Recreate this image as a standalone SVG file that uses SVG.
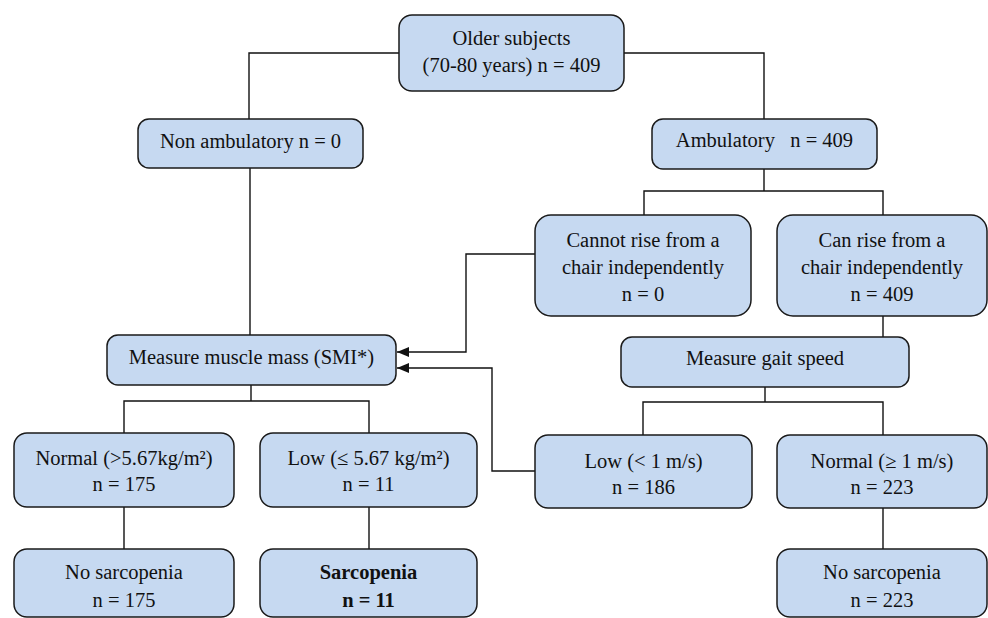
<svg xmlns="http://www.w3.org/2000/svg" width="988" height="618" viewBox="0 0 988 618">
<style>
.box{fill:#c6d9f1;stroke:#1a1a1a;stroke-width:1.5}
.t{font-family:"Liberation Serif","Times New Roman",serif;font-size:20.5px;fill:#111;text-anchor:middle}
.b{font-weight:bold}
.c{fill:none;stroke:#111;stroke-width:1.4}
</style>
<defs>
<marker id="ah" viewBox="0 0 12 10" refX="12" refY="5" markerWidth="12" markerHeight="10" markerUnits="userSpaceOnUse" orient="auto">
<path d="M0,0 L12,5 L0,10 Z" fill="#111"/>
</marker>
</defs>
<rect width="988" height="618" fill="#fff"/>
<g id="connectors">
<path class="c" d="M399,53 H249 V119"/>
<path class="c" d="M624,53 H764 V119"/>
<path class="c" d="M250,168 V335"/>
<path class="c" d="M764,169 V191"/>
<path class="c" d="M644,215 V191 H883 V215"/>
<path class="c" d="M535,254 H466 V352 H397" marker-end="url(#ah)"/>
<path class="c" d="M883,316 V337"/>
<path class="c" d="M251,385 V401"/>
<path class="c" d="M124,433 V401 H369 V433"/>
<path class="c" d="M765,387 V402"/>
<path class="c" d="M643,435 V402 H883 V435"/>
<path class="c" d="M535,471 H492 V368 H397" marker-end="url(#ah)"/>
<path class="c" d="M124,507 V549"/>
<path class="c" d="M369,507 V549"/>
<path class="c" d="M883,508 V549"/>
</g>
<g id="older">
<rect class="box" x="399" y="15" width="225" height="76" rx="13"/>
<text class="t" x="511.5" y="45">Older subjects</text>
<text class="t" x="511.5" y="72">(70-80 years) n = 409</text>
</g>
<g id="nonamb">
<rect class="box" x="138" y="119" width="225" height="49" rx="11"/>
<text class="t" x="250.5" y="148">Non ambulatory n = 0</text>
</g>
<g id="amb">
<rect class="box" x="652" y="119" width="225" height="50" rx="11"/>
<text class="t" x="764.5" y="147" xml:space="preserve">Ambulatory   n = 409</text>
</g>
<g id="cannot">
<rect class="box" x="535" y="215" width="216" height="101" rx="16"/>
<text class="t" x="643" y="247">Cannot rise from a</text>
<text class="t" x="643" y="274">chair independently</text>
<text class="t" x="643" y="301">n = 0</text>
</g>
<g id="can">
<rect class="box" x="777" y="215" width="210" height="101" rx="16"/>
<text class="t" x="882" y="247">Can rise from a</text>
<text class="t" x="882" y="274">chair independently</text>
<text class="t" x="882" y="301">n = 409</text>
</g>
<g id="muscle">
<rect class="box" x="107" y="335" width="289" height="50" rx="11"/>
<text class="t" x="251.5" y="364">Measure muscle mass (SMI*)</text>
</g>
<g id="gait">
<rect class="box" x="621" y="337" width="288" height="50" rx="11"/>
<text class="t" x="765" y="365">Measure gait speed</text>
</g>
<g id="normalmass">
<rect class="box" x="14" y="433" width="220" height="74" rx="13"/>
<text class="t" x="124" y="465">Normal (&gt;5.67kg/m²)</text>
<text class="t" x="124" y="491">n = 175</text>
</g>
<g id="lowmass">
<rect class="box" x="260" y="433" width="217" height="74" rx="13"/>
<text class="t" x="368.5" y="465">Low (≤ 5.67 kg/m²)</text>
<text class="t" x="368.5" y="491">n = 11</text>
</g>
<g id="lowgait">
<rect class="box" x="535" y="435" width="217" height="73" rx="13"/>
<text class="t" x="643.5" y="468">Low (&lt; 1 m/s)</text>
<text class="t" x="643.5" y="494">n = 186</text>
</g>
<g id="normalgait">
<rect class="box" x="777" y="435" width="210" height="73" rx="13"/>
<text class="t" x="882" y="468">Normal (≥ 1 m/s)</text>
<text class="t" x="882" y="494">n = 223</text>
</g>
<g id="nosarc1">
<rect class="box" x="14" y="549" width="220" height="68" rx="13"/>
<text class="t" x="124" y="579">No sarcopenia</text>
<text class="t" x="124" y="607">n = 175</text>
</g>
<g id="sarc">
<rect class="box" x="260" y="549" width="217" height="68" rx="13"/>
<text class="t b" x="368.5" y="579">Sarcopenia</text>
<text class="t b" x="368.5" y="607">n = 11</text>
</g>
<g id="nosarc2">
<rect class="box" x="777" y="549" width="210" height="68" rx="13"/>
<text class="t" x="882" y="579">No sarcopenia</text>
<text class="t" x="882" y="607">n = 223</text>
</g>
</svg>
